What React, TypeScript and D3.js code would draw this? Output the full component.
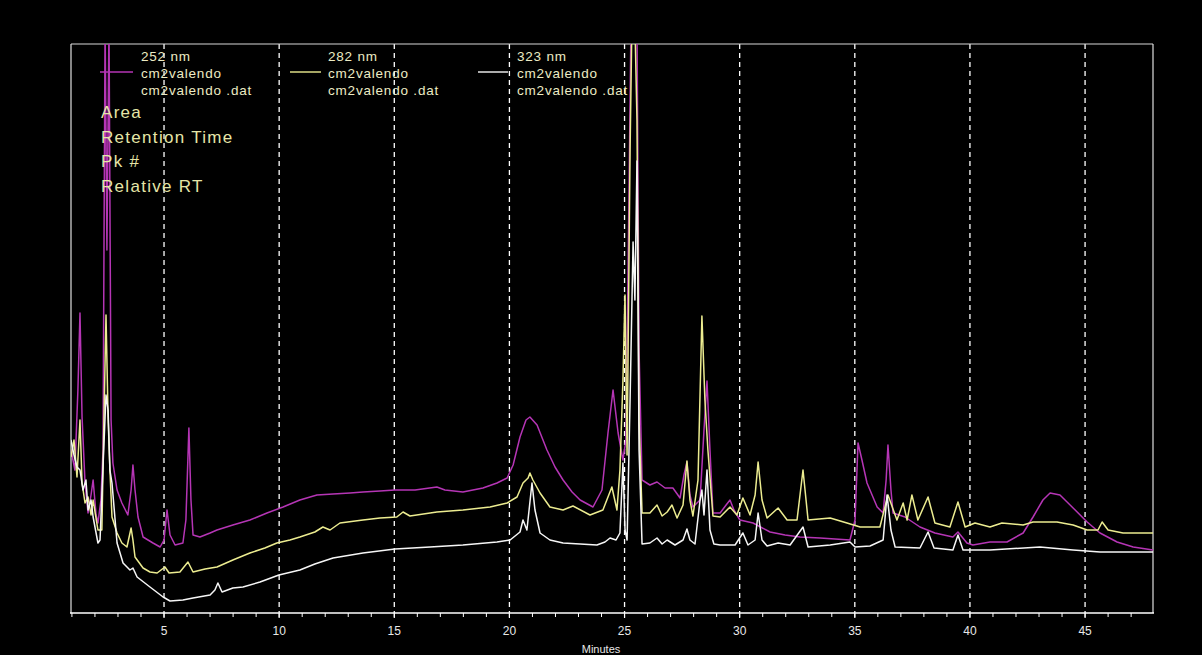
import React from "react";
import * as d3 from "d3";

// Retention time (min) / detector response (arbitrary mAU)
const trace252: [number, number][] = [
  [0.96, 163], [1.13, 143], [1.26, 223], [1.35, 300], [1.44, 196], [1.57, 130], [1.7, 100], [1.83, 118],
  [1.92, 133], [2.05, 98], [2.13, 90], [2.26, 113], [2.35, 163], [2.44, 590], [2.52, 363], [2.61, 590],
  [2.7, 193], [2.78, 150], [2.96, 123], [3.17, 110], [3.43, 98], [3.57, 123], [3.65, 148], [3.74, 123],
  [3.87, 96], [4.09, 76], [4.52, 70], [4.83, 66], [5.0, 73], [5.13, 103], [5.26, 78], [5.48, 68],
  [5.82, 70], [5.95, 93], [6.08, 185], [6.17, 113], [6.26, 78], [6.56, 76], [7.0, 80], [7.3, 83],
  [7.99, 88], [8.73, 93], [9.47, 100], [10.17, 106], [10.9, 113], [11.64, 118], [12.34, 119], [13.08, 120],
  [13.64, 121], [14.38, 122], [15.03, 123], [15.9, 123], [16.85, 126], [17.2, 123], [17.98, 121], [18.85, 125],
  [19.46, 130], [19.9, 135], [20.16, 148], [20.46, 176], [20.72, 193], [20.89, 196], [21.2, 188], [21.63, 163],
  [21.98, 146], [22.33, 133], [22.72, 121], [23.07, 113], [23.63, 106], [24.02, 123], [24.28, 180], [24.5, 223],
  [24.72, 180], [24.93, 153], [25.06, 173], [25.19, 413], [25.28, 590], [25.54, 590], [25.63, 263], [25.76, 133],
  [26.1, 128], [26.41, 131], [26.76, 125], [27.1, 125], [27.41, 115], [27.58, 138], [27.71, 151], [27.84, 118],
  [27.97, 106], [28.28, 113], [28.45, 183], [28.58, 232], [28.71, 163], [28.84, 100], [29.15, 100], [29.41, 108],
  [29.58, 113], [29.75, 103], [30.01, 93], [30.58, 90], [31.32, 81], [31.97, 78], [32.62, 76], [33.49, 75],
  [34.79, 73], [35.01, 93], [35.14, 170], [35.31, 153], [35.53, 130], [35.97, 106], [36.23, 100], [36.36, 133],
  [36.44, 168], [36.57, 123], [36.66, 100], [37.18, 96], [37.83, 86], [38.48, 80], [39.26, 76], [39.48, 81],
  [39.87, 70], [40.13, 68], [40.87, 71], [41.61, 71], [42.31, 80], [42.74, 96], [43.17, 113], [43.48, 120],
  [43.91, 118], [44.48, 105], [45.09, 91], [45.65, 80], [46.39, 71], [47.09, 66], [47.95, 63],
];

const trace282: [number, number][] = [
  [0.96, 156], [1.09, 173], [1.22, 136], [1.35, 193], [1.44, 130], [1.57, 110], [1.7, 116], [1.83, 98],
  [1.92, 113], [2.13, 83], [2.3, 83], [2.39, 193], [2.48, 298], [2.57, 196], [2.65, 143], [2.74, 96],
  [2.96, 80], [3.17, 70], [3.39, 66], [3.57, 85], [3.65, 73], [3.74, 56], [4.09, 45], [4.39, 41],
  [4.7, 40], [5.04, 46], [5.22, 40], [5.69, 41], [6.04, 51], [6.26, 41], [6.78, 44], [7.3, 46],
  [7.99, 53], [8.73, 60], [9.38, 65], [9.9, 70], [10.47, 73], [10.9, 76], [11.55, 81], [11.9, 86],
  [12.21, 83], [12.64, 90], [13.64, 93], [14.38, 95], [15.11, 96], [15.38, 101], [15.68, 97], [16.85, 101],
  [17.98, 103], [19.16, 106], [19.9, 110], [20.33, 116], [20.59, 130], [20.81, 135], [20.89, 140], [21.02, 133],
  [21.33, 120], [21.76, 106], [22.33, 103], [22.76, 107], [23.5, 98], [24.06, 103], [24.45, 126], [24.67, 103],
  [24.8, 143], [24.93, 233], [25.02, 318], [25.11, 158], [25.24, 463], [25.32, 590], [25.45, 590], [25.54, 493],
  [25.63, 193], [25.76, 100], [26.1, 100], [26.41, 108], [26.63, 97], [26.85, 101], [27.06, 108], [27.28, 95],
  [27.54, 108], [27.71, 152], [27.84, 113], [27.97, 97], [28.19, 133], [28.36, 297], [28.49, 213], [28.62, 163],
  [28.84, 97], [29.15, 96], [29.58, 106], [29.88, 98], [30.14, 115], [30.45, 98], [30.67, 118], [30.8, 151],
  [30.97, 113], [31.19, 95], [31.67, 105], [32.06, 93], [32.49, 93], [32.75, 143], [32.97, 93], [33.93, 95],
  [34.66, 90], [35.23, 86], [36.09, 86], [36.44, 118], [36.83, 93], [37.1, 110], [37.27, 93], [37.48, 118],
  [37.74, 93], [38.18, 116], [38.48, 90], [39.13, 86], [39.48, 111], [39.79, 86], [40.22, 90], [40.87, 86],
  [41.39, 90], [42.31, 88], [42.74, 91], [43.78, 91], [44.48, 88], [45.09, 83], [45.56, 83], [45.74, 91],
  [46.0, 83], [46.65, 80], [47.95, 80],
];

const trace323: [number, number][] = [
  [0.96, 173], [1.09, 158], [1.22, 146], [1.35, 143], [1.48, 123], [1.61, 133], [1.7, 103], [1.83, 113],
  [1.92, 96], [2.13, 70], [2.22, 73], [2.35, 146], [2.48, 218], [2.57, 203], [2.65, 143], [2.74, 130],
  [2.96, 70], [3.22, 50], [3.52, 43], [3.65, 45], [3.83, 36], [4.39, 26], [4.96, 16], [5.26, 12],
  [5.82, 13], [6.26, 15], [7.0, 18], [7.21, 23], [7.34, 30], [7.52, 21], [7.99, 25], [8.43, 26],
  [9.17, 31], [9.99, 38], [10.9, 43], [11.55, 49], [12.34, 55], [13.64, 60], [15.03, 64], [16.55, 66],
  [17.98, 68], [19.46, 71], [20.03, 73], [20.46, 81], [20.59, 93], [20.76, 83], [20.98, 130], [21.11, 103],
  [21.33, 80], [21.76, 73], [22.33, 70], [23.07, 69], [23.8, 68], [24.15, 71], [24.37, 75], [24.63, 73],
  [24.8, 80], [24.93, 150], [25.02, 83], [25.11, 73], [25.24, 213], [25.37, 371], [25.45, 313], [25.54, 452],
  [25.63, 163], [25.76, 69], [26.1, 70], [26.41, 75], [26.63, 69], [26.85, 73], [27.19, 68], [27.54, 73],
  [27.71, 84], [27.84, 73], [28.06, 69], [28.28, 113], [28.36, 123], [28.45, 98], [28.58, 143], [28.71, 83],
  [28.88, 69], [29.15, 68], [29.8, 68], [30.14, 80], [30.36, 68], [30.67, 73], [30.8, 100], [30.97, 73],
  [31.19, 67], [31.67, 70], [32.19, 68], [32.75, 86], [32.97, 66], [33.93, 68], [34.79, 71], [35.01, 66],
  [35.66, 67], [36.23, 73], [36.4, 118], [36.57, 83], [36.75, 66], [37.83, 65], [38.18, 81], [38.44, 65],
  [39.26, 63], [39.48, 78], [39.7, 63], [40.87, 63], [43.04, 66], [44.48, 63], [45.65, 61], [47.95, 61],
];

const majorTicks = [5, 10, 15, 20, 25, 30, 35, 40, 45];
const minorTicks = d3.range(1, 48);
const legendEntries = [
  { nm: "252 nm", name: "cm2valendo", file: "cm2valendo .dat", color: "#b535b5" },
  { nm: "282 nm", name: "cm2valendo", file: "cm2valendo .dat", color: "#ecec90" },
  { nm: "323 nm", name: "cm2valendo", file: "cm2valendo .dat", color: "#f6f6f6" },
];
const annotationLabels = ["Area", "Retention Time", "Pk #", "Relative RT"];
const xDomain: [number, number] = [0.96, 47.95];
const yDomain: [number, number] = [0, 569];

const W = 1202;
const H = 655;
const L = 71, R = 1153, T = 44, B = 613;

export default function App() {
  const x = d3.scaleLinear().domain(xDomain).range([L, R]);
  const y = d3.scaleLinear().domain(yDomain).range([B, T]);
  const line = d3.line<[number, number]>().x((d) => x(d[0])).y((d) => y(d[1]));
  const series = [
    { data: trace252, color: legendEntries[0].color },
    { data: trace282, color: legendEntries[1].color },
    { data: trace323, color: legendEntries[2].color },
  ];
  const legendX = [141, 328, 517];
  const legendLine = [[100, 133], [290, 321], [478, 508]];
  const font = "'Liberation Sans', Arial, sans-serif";
  return (
    <>
      <style>{`body{margin:0;background:#000;}`}</style>
      <svg width={W} height={H} style={{ display: "block", background: "#000" }}>
        <defs>
          <clipPath id="plot">
            <rect x={L} y={T} width={R - L} height={B - T} />
          </clipPath>
        </defs>
        <rect x={0} y={0} width={W} height={H} fill="#000" />
        {majorTicks.map((t) => (
          <line key={"g" + t} x1={x(t)} x2={x(t)} y1={T} y2={B} stroke="#ffffff" strokeWidth={1.3} strokeDasharray="5 4" />
        ))}
        <line x1={L} x2={R} y1={T} y2={T} stroke="#d8d8d8" strokeWidth={1.2} />
        <line x1={L} x2={L} y1={T} y2={B} stroke="#e0e0e0" strokeWidth={1.2} />
        <line x1={R} x2={R} y1={T} y2={B} stroke="#e0e0e0" strokeWidth={1.2} />
        <g clipPath="url(#plot)">
          {series.map((s, i) => (
            <path key={i} d={line(s.data) || ""} fill="none" stroke={s.color} strokeWidth={1.5} strokeLinejoin="round" />
          ))}
        </g>
        <line x1={L - 1} x2={R + 1} y1={B} y2={B} stroke="#ffffff" strokeWidth={1.6} />
        {minorTicks.map((t) => (
          <line key={"m" + t} x1={x(t)} x2={x(t)} y1={B} y2={B + 4} stroke="#ffffff" strokeWidth={1} />
        ))}
        {majorTicks.map((t) => (
          <line key={"M" + t} x1={x(t)} x2={x(t)} y1={B} y2={B + 5} stroke="#ffffff" strokeWidth={1.2} />
        ))}
        {majorTicks.map((t) => (
          <text key={"l" + t} x={x(t)} y={635} fill="#e8e8e8" fontSize={12} fontFamily={font} textAnchor="middle">
            {t}
          </text>
        ))}
        <text x={601} y={653} fill="#e8e8e8" fontSize={11} fontFamily={font} textAnchor="middle">
          Minutes
        </text>
        {legendEntries.map((e, i) => (
          <g key={"lg" + i} fontFamily={font} fontSize={13.5} fill="#ecebc4" letterSpacing={0.8}>
            <text x={legendX[i]} y={61}>{e.nm}</text>
            <line x1={legendLine[i][0]} x2={legendLine[i][1]} y1={72} y2={72} stroke={e.color} strokeWidth={1.4} />
            <text x={legendX[i]} y={78}>{e.name}</text>
            <text x={legendX[i]} y={95}>{e.file}</text>
          </g>
        ))}
        {annotationLabels.map((a, i) => (
          <text key={"a" + i} x={101} y={118 + i * 24.5} fill="#e6e6a8" fontSize={17} letterSpacing={1.3} fontFamily={font}>
            {a}
          </text>
        ))}
      </svg>
    </>
  );
}
